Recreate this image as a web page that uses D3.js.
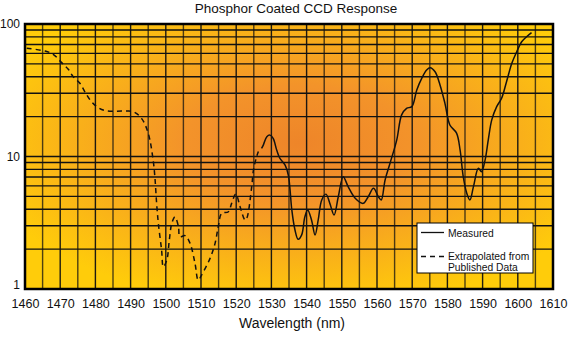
<!DOCTYPE html>
<html>
<head>
<meta charset="utf-8">
<script src="https://cdn.jsdelivr.net/npm/d3@7"></script>
<style>
	body { margin: 0; background: white; }
	text { font-family: "Liberation Sans", Arial, sans-serif; fill: #111; }
</style>
</head>
<body>
<script>
// values
var extrapolated = [
	[1460.5, 65.6], [1465.7, 62.5], [1468.0, 59.1], [1470.4, 51.1], [1472.3, 45.5],
	[1473.7, 40.0], [1475.6, 35.7], [1477.0, 30.8], [1478.5, 26.7], [1480.4, 23.8],
	[1482.7, 22.2], [1487.9, 22.0], [1490.7, 21.8], [1493.1, 19.4], [1495.0, 15.0],
	[1496.4, 9.4], [1496.9, 7.0], [1497.4, 4.4], [1497.9, 3.1], [1498.8, 1.97],
	[1499.3, 1.47], [1500.3, 1.66], [1501.0, 2.34], [1501.7, 3.13], [1502.6, 3.5],
	[1503.6, 2.95], [1504.0, 2.48], [1505.5, 2.53], [1506.9, 2.21], [1508.3, 1.56],
	[1509.2, 1.17], [1510.2, 1.28], [1512.6, 1.71], [1514.0, 2.21], [1514.9, 2.95],
	[1515.9, 3.73], [1517.8, 3.83], [1518.7, 4.43], [1519.9, 5.2], [1521.1, 4.18],
	[1522.5, 3.32], [1523.0, 3.42], [1524.4, 5.9], [1524.9, 7.9], [1525.8, 9.96],
	[1526.3, 10.9]
]

var measured = [
	[1527.2, 11.5], [1527.7, 12.2], [1528.7, 14.1], [1529.6, 14.5], [1530.5, 13.7],
	[1531.5, 11.2], [1532.4, 9.7], [1533.9, 8.6], [1534.8, 7.25], [1535.3, 5.6],
	[1535.8, 3.95], [1536.7, 2.79], [1537.6, 2.37], [1538.6, 2.56], [1539.5, 3.5],
	[1540.3, 3.95], [1541.4, 3.32], [1542.4, 2.56], [1543.3, 3.32], [1544.3, 4.7],
	[1545.5, 5.2], [1546.6, 4.43], [1547.8, 3.62], [1549.0, 4.97], [1550.4, 7.04],
	[1551.8, 5.92], [1553.8, 4.84], [1556.1, 4.43], [1557.5, 4.97], [1559.0, 5.75],
	[1560.4, 4.97], [1561.2, 4.7], [1562.3, 6.65], [1563.7, 8.9], [1565.6, 13.3],
	[1567.0, 20.6], [1568.4, 23.1], [1569.9, 23.8], [1571.3, 31.8], [1572.7, 38.9],
	[1574.1, 45.0], [1575.1, 46.8], [1576.5, 43.6], [1577.9, 34.7], [1579.3, 25.2],
	[1580.7, 17.3], [1582.6, 15.0], [1583.6, 11.2], [1584.5, 7.04], [1585.5, 5.28],
	[1586.4, 4.7], [1587.4, 5.92], [1588.8, 8.15], [1589.7, 7.68], [1590.7, 9.4],
	[1591.6, 13.3], [1592.6, 18.9], [1594.0, 23.8], [1595.4, 27.5], [1596.8, 36.7],
	[1598.3, 50.5], [1599.7, 61.8], [1601.1, 73.5], [1602.5, 80.1], [1603.9, 86.0]
]

var xTicks = [1460, 1470, 1480, 1490, 1500, 1510, 1520, 1530, 1540, 1550, 1560, 1570, 1580, 1590, 1600, 1610]
var yTicks = [1, 10, 100]
var legendLabels = ['Measured', 'Extrapolated from', 'Published Data']

var width = 569,
	height = 339

var x = d3.scaleLinear()
	.domain([1460, 1610])
	.range([25, 553])

var y = d3.scaleLog()
	.domain([1, 100])
	.range([289, 24])

var svg = d3.select('body').append('svg')
	.attr('width', width)
	.attr('height', height)

var grad = svg.append('defs').append('radialGradient')
	.attr('id', 'bg')
	.attr('cx', 0.52)
	.attr('cy', 0.45)
	.attr('r', 0.62)
grad.append('stop').attr('offset', 0).attr('stop-color', '#EE8529')
grad.append('stop').attr('offset', 0.35).attr('stop-color', '#F3932A')
grad.append('stop').attr('offset', 1).attr('stop-color', '#FFCC0A')

svg.append('rect')
	.attr('x', x(1460))
	.attr('y', y(100))
	.attr('width', x(1610) - x(1460))
	.attr('height', y(1) - y(100))
	.attr('fill', 'url(#bg)')

// grid: every 5 nm, log minors
var vLines = d3.range(1465, 1610, 5)
var hLines = []
;[1, 10].forEach(function (dec) {
	for (var k = 2; k <= 9; k++) hLines.push(dec * k)
})
hLines.push(10)

svg.selectAll('.vgrid')
	.data(vLines)
	.enter()
	.append('line')
		.attr('x1', d => x(d))
		.attr('x2', d => x(d))
		.attr('y1', y(100))
		.attr('y2', y(1))
		.attr('stroke', '#111')
		.attr('stroke-opacity', d => d % 10 == 0 ? 0.95 : 0.75)
		.attr('stroke-width', 1.4)

svg.selectAll('.hgrid')
	.data(hLines)
	.enter()
	.append('line')
		.attr('x1', x(1460))
		.attr('x2', x(1610))
		.attr('y1', d => y(d))
		.attr('y2', d => y(d))
		.attr('stroke', '#111')
		.attr('stroke-width', 1.4)

var line = d3.line()
	.x(d => x(d[0]))
	.y(d => y(d[1]))
	.curve(d3.curveCatmullRom.alpha(0.5))

svg.append('path')
	.attr('d', line(extrapolated))
	.attr('fill', 'none')
	.attr('stroke', '#111')
	.attr('stroke-width', 1.5)
	.attr('stroke-dasharray', '5,4')

svg.append('path')
	.attr('d', line(measured))
	.attr('fill', 'none')
	.attr('stroke', '#111')
	.attr('stroke-width', 1.5)

// frame
svg.append('rect')
	.attr('x', x(1460))
	.attr('y', y(100))
	.attr('width', x(1610) - x(1460))
	.attr('height', y(1) - y(100))
	.attr('fill', 'none')
	.attr('stroke', '#000')
	.attr('stroke-width', 2.5)

// axes
var xAxis = svg.append('g')
	.attr('transform', 'translate(0,' + y(1) + ')')
	.call(d3.axisBottom(x).tickValues(xTicks).tickSize(0).tickPadding(10).tickFormat(d3.format('d')))
xAxis.select('.domain').remove()
xAxis.selectAll('text')
	.style('font-size', '12.5px')
	.style('font-family', '"Liberation Sans", Arial, sans-serif')
	.attr('fill', '#111')

var yAxis = svg.append('g')
	.attr('transform', 'translate(' + x(1460) + ',0)')
	.call(d3.axisLeft(y).tickValues(yTicks).tickSize(0).tickPadding(5).tickFormat(d3.format('d')))
yAxis.select('.domain').remove()
yAxis.selectAll('text')
	.style('font-size', '12px')
	.style('font-family', '"Liberation Sans", Arial, sans-serif')
	.attr('fill', '#111')
	.attr('dy', d => d == 1 ? '-0.05em' : '0.32em')

svg.append('text')
	.attr('x', 296)
	.attr('y', 13)
	.attr('text-anchor', 'middle')
	.style('font-size', '13.5px')
	.text('Phosphor Coated CCD Response')

svg.append('text')
	.attr('x', 292)
	.attr('y', 328)
	.attr('text-anchor', 'middle')
	.style('font-size', '14px')
	.text('Wavelength (nm)')

// LEGEND
var lg = svg.append('g')
lg.append('rect')
	.attr('x', 417)
	.attr('y', 223)
	.attr('width', 116)
	.attr('height', 50)
	.attr('fill', 'white')
	.attr('stroke', '#000')
	.attr('stroke-width', 1)

lg.append('line')
	.attr('x1', 421).attr('x2', 444)
	.attr('y1', 232.5).attr('y2', 232.5)
	.attr('stroke', '#111')
	.attr('stroke-width', 1.3)

lg.append('line')
	.attr('x1', 421).attr('x2', 444)
	.attr('y1', 256.5).attr('y2', 256.5)
	.attr('stroke', '#111')
	.attr('stroke-width', 1.3)
	.attr('stroke-dasharray', '5,4')

lg.selectAll('.legtext')
	.data(legendLabels)
	.enter()
	.append('text')
		.attr('x', 448)
		.attr('y', (d, i) => [236.5, 259.5, 270.5][i])
		.style('font-size', '10.3px')
		.text(d => d)
</script>
</body>
</html>
